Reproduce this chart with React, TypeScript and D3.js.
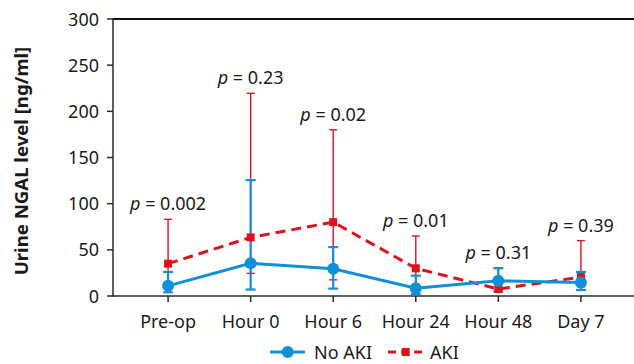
import React from "react";
import * as d3 from "d3";

const categories = ["Pre-op", "Hour 0", "Hour 6", "Hour 24", "Hour 48", "Day 7"];
const noAkiMean = [11, 35.5, 29.5, 8.5, 16.5, 14.5];
const noAkiLow = [4, 7, 8, 2, 5, 6.5];
const noAkiHigh = [26, 125.5, 53, 22, 30, 26];
const akiMean = [35, 63.5, 80, 30, 7.5, 20.5];
const akiLow = [10, 24.5, 17.5, 12, 5, 10];
const akiHigh = [83, 219.5, 180, 65, 30.5, 60];
const pValues = ["0.002", "0.23", "0.02", "0.01", "0.31", "0.39"];
const yTicks = [0, 50, 100, 150, 200, 250, 300];

const W = 634;
const H = 364;
const FONT = "'Noto Sans', sans-serif";
const BLUE = "#1190d8";
const RED = "#e3101c";
const AXIS = "#2a2a2a";

export default function App() {
  const x = d3.scalePoint<string>().domain(categories).range([113, 636]).padding(0.667);
  const y = d3.scaleLinear().domain([0, 300]).range([296, 19]);

  const line = d3
    .line<[number, number]>()
    .x((d) => d[0])
    .y((d) => d[1]);

  const bluePts: [number, number][] = categories.map((c, i) => [x(c)!, y(noAkiMean[i])]);
  const redPts: [number, number][] = categories.map((c, i) => [x(c)!, y(akiMean[i])]);

  return (
    <svg
      width={W}
      height={H}
      style={{ position: "absolute", left: 0, top: 0, background: "#fff" }}
      fontFamily={FONT}
    >
      {/* frame lines */}
      <line x1={113} x2={W} y1={19} y2={19} stroke="#111" strokeWidth={2} />
      <line x1={113} x2={113} y1={18} y2={296.5} stroke={AXIS} strokeWidth={1.5} />
      <line x1={112} x2={W} y1={296} y2={296} stroke={AXIS} strokeWidth={1.5} />

      {/* y ticks */}
      {yTicks.map((t) => (
        <g key={t}>
          <line x1={107} x2={113} y1={y(t)} y2={y(t)} stroke={AXIS} strokeWidth={1.5} />
          <text x={99} y={y(t) + 6.5} textAnchor="end" fontSize={18} fill="#1a1a1a">
            {t}
          </text>
        </g>
      ))}

      {/* x ticks */}
      {categories.map((c) => (
        <g key={c}>
          <line x1={x(c)!} x2={x(c)!} y1={296} y2={302} stroke={AXIS} strokeWidth={1.5} />
          <text x={x(c)!} y={328} textAnchor="middle" fontSize={18} fill="#1a1a1a">
            {c}
          </text>
        </g>
      ))}

      {/* y label */}
      <text
        transform={`translate(27.5,161) rotate(-90)`}
        textAnchor="middle"
        fontSize={18.6}
        fontWeight="bold"
        fill="#1a1a1a"
      >
        Urine NGAL level [ng/ml]
      </text>

      {/* red error bars */}
      {categories.map((c, i) => {
        const cx = x(c)!;
        return (
          <g key={"re" + c} stroke={RED} strokeWidth={1.4}>
            <line x1={cx} x2={cx} y1={y(akiHigh[i])} y2={y(akiLow[i])} />
            <line x1={cx - 4} x2={cx + 4} y1={y(akiHigh[i])} y2={y(akiHigh[i])} />
            <line x1={cx - 4} x2={cx + 4} y1={y(akiLow[i])} y2={y(akiLow[i])} />
          </g>
        );
      })}

      {/* blue error bars */}
      {categories.map((c, i) => {
        const cx = x(c)!;
        return (
          <g key={"be" + c} stroke={BLUE} strokeWidth={2.2}>
            <line x1={cx} x2={cx} y1={y(noAkiHigh[i])} y2={y(noAkiLow[i])} />
            <line x1={cx - 5} x2={cx + 5} y1={y(noAkiHigh[i])} y2={y(noAkiHigh[i])} />
            <line x1={cx - 5} x2={cx + 5} y1={y(noAkiLow[i])} y2={y(noAkiLow[i])} />
          </g>
        );
      })}

      {/* red dashed line + squares */}
      <path d={line(redPts)!} fill="none" stroke={RED} strokeWidth={3} strokeDasharray="10,6" />
      {redPts.map((p, i) => (
        <rect key={"rs" + i} x={p[0] - 4} y={p[1] - 4} width={8} height={8} fill={RED} />
      ))}

      {/* blue line + circles */}
      <path d={line(bluePts)!} fill="none" stroke={BLUE} strokeWidth={3} />
      {bluePts.map((p, i) => (
        <circle key={"bc" + i} cx={p[0]} cy={p[1]} r={6} fill={BLUE} />
      ))}

      {/* p-value labels */}
      {categories.map((c, i) => (
        <text
          key={"p" + c}
          x={x(c)!}
          y={y(Math.max(akiHigh[i], noAkiHigh[i])) - 9}
          textAnchor="middle"
          fontSize={18}
          fill="#1a1a1a"
        >
          <tspan fontStyle="italic">p</tspan> = {pValues[i]}
        </text>
      ))}

      {/* legend */}
      <g>
        <line x1={270} x2={305} y1={352} y2={352} stroke={BLUE} strokeWidth={3} />
        <circle cx={287.7} cy={352} r={6} fill={BLUE} />
        <text x={314} y={358.5} fontSize={18} fill="#1a1a1a">
          No AKI
        </text>
        <line x1={388} x2={423} y1={352} y2={352} stroke={RED} strokeWidth={3} strokeDasharray="8,5" />
        <rect x={401.7} y={348} width={8} height={8} fill={RED} />
        <text x={430} y={358.5} fontSize={18} fill="#1a1a1a">
          AKI
        </text>
      </g>
    </svg>
  );
}
